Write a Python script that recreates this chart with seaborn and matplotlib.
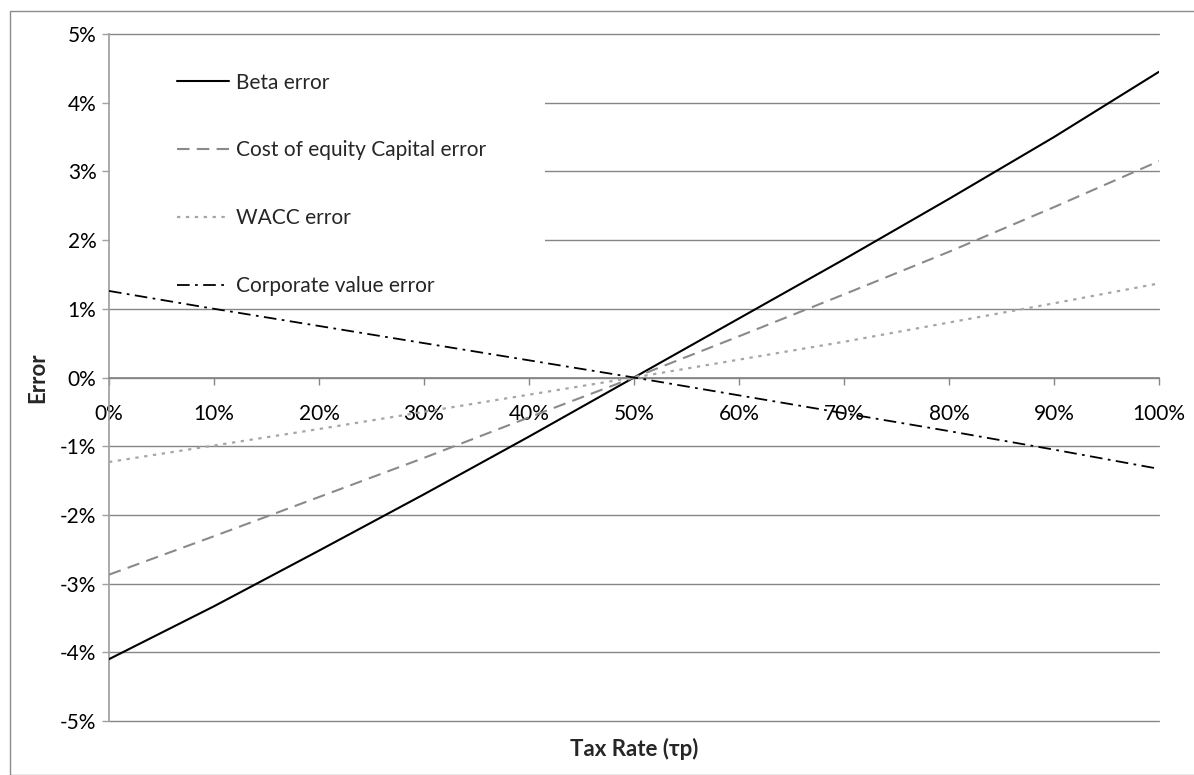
import matplotlib
matplotlib.use("Agg")
import matplotlib.pyplot as plt
import matplotlib.patches as mpatches
from matplotlib.ticker import FuncFormatter, MultipleLocator
import seaborn as sns
import pandas as pd

# Tax rate (percent) and error (percent).
tax_rate = [0, 10, 20, 30, 40, 50, 60, 70, 80, 90, 100]
beta_error = [-4.10, -3.33, -2.52, -1.70, -0.86, 0.00, 0.86, 1.72, 2.60, 3.50, 4.45]
cost_equity_error = [-2.87, -2.31, -1.74, -1.17, -0.58, 0.00, 0.60, 1.21, 1.83, 2.48, 3.15]
wacc_error = [-1.23, -0.99, -0.75, -0.50, -0.25, 0.00, 0.26, 0.52, 0.80, 1.08, 1.37]
corp_value_error = [1.26, 1.00, 0.75, 0.50, 0.25, 0.00, -0.26, -0.52, -0.78, -1.05, -1.33]

series_names = ["Beta error", "Cost of equity Capital error",
                "WACC error", "Corporate value error"]
series_values = [beta_error, cost_equity_error, wacc_error, corp_value_error]

sns.set_theme(style="white")
plt.rcParams["font.family"] = ["Lato", "DejaVu Sans"]

GRID = "#868686"

fig = plt.figure(figsize=(11.94, 7.75), dpi=100)
ax = fig.add_axes([109 / 1194, 1 - 721 / 775, 1050 / 1194, 687 / 775])

# Outer chart frame (runs off the right/bottom edge as in the original).
fig.patches.append(mpatches.Rectangle(
    (10 / 1194, 0), 2, 1 - 11 / 775, transform=fig.transFigure,
    fill=False, edgecolor="#8c8c8c", linewidth=1.0))

styles = [
    dict(color="black", linestyle="-", linewidth=1.5),
    dict(color="#8a8a8a", linestyle=(0, (6, 3.5)), linewidth=1.5),
    dict(color="#a6a6a6", linestyle=(0, (1.5, 2.5)), linewidth=1.6),
    dict(color="black", linestyle=(0, (7, 3, 1.5, 3)), linewidth=1.3),
]

df = pd.DataFrame({"tax": tax_rate})
for name, vals, st in zip(series_names, series_values, styles):
    df[name] = vals
    sns.lineplot(data=df, x="tax", y=name, ax=ax, label=name, zorder=3, **st)

ax.set_xlim(0, 100)
ax.set_ylim(-5, 5)
ax.xaxis.set_major_locator(MultipleLocator(10))
ax.yaxis.set_major_locator(MultipleLocator(1))
ax.xaxis.set_major_formatter(FuncFormatter(lambda v, p: f"{int(round(v))}%"))
ax.yaxis.set_major_formatter(FuncFormatter(lambda v, p: f"{int(round(v))}%"))

ax.set_axisbelow(True)
ax.grid(axis="y", color=GRID, linewidth=1.0)
ax.grid(axis="x", visible=False)
for gl in ax.get_ygridlines():
    gl.set_clip_on(False)

for s in ["top", "right"]:
    ax.spines[s].set_visible(False)
ax.spines["left"].set_color("#a0a0a0")
ax.spines["bottom"].set_color(GRID)
ax.spines["bottom"].set_position(("data", 0))

ax.tick_params(axis="y", direction="out", length=5, width=1, color="#a0a0a0",
               left=True, labelsize=15, pad=4, labelcolor="black")
ax.tick_params(axis="x", direction="out", length=5, width=1, color=GRID,
               bottom=True, labelsize=15, pad=14, labelcolor="black")

ax.set_xlabel("Tax Rate (τp)", fontsize=16, fontweight="bold")
ax.set_ylabel("Error", fontsize=16, fontweight="bold")
ax.xaxis.set_label_coords(0.5, -0.024)
ax.yaxis.set_label_coords(-0.058, 0.5)

# White legend area hiding the gridlines, as in the Excel original.
ax.add_patch(mpatches.Rectangle((0.001, 0.64), 0.414, 0.345, transform=ax.transAxes,
                                facecolor="white", edgecolor="none", zorder=1))

leg = ax.legend(loc="upper left", bbox_to_anchor=(0.0573, 0.956), frameon=False,
                fontsize=15, labelspacing=2.3, handlelength=2.45,
                handletextpad=0.38, borderaxespad=0)

fig.savefig("out.png", dpi=100)
